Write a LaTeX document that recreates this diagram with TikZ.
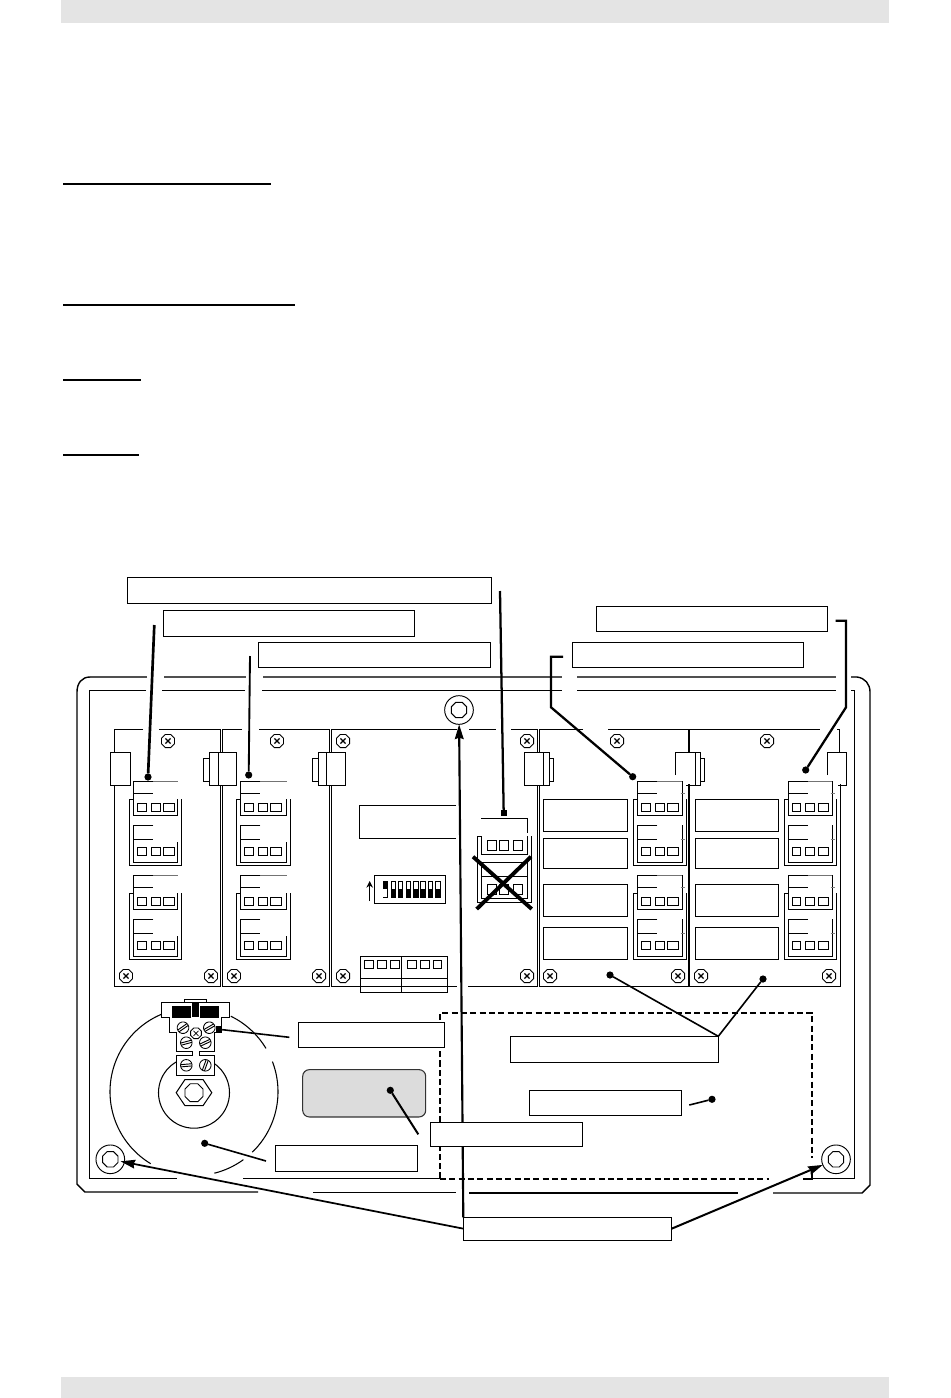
\documentclass[tikz,border=0pt]{standalone}
\usetikzlibrary{arrows.meta,shapes.geometric}
\definecolor{barg}{HTML}{E4E4E4}
\definecolor{panelg}{HTML}{DCDCDC}
\definecolor{edgeg}{HTML}{505050}
\tikzset{
  thinl/.style={line width=0.62pt,black},
  housing/.style={line width=1.3pt,edgeg},
  housingdark/.style={line width=1.05pt,black},
  lead/.style={line width=1.7pt,black},
  leadthin/.style={line width=1.2pt,black},
  rulel/.style={line width=1.5pt,black},
  lblbox/.style={draw=black,line width=0.75pt,fill=white,inner sep=0pt,outer sep=0pt},
  dotn/.style={circle,fill=black,inner sep=0pt,outer sep=0pt,minimum size=5.4pt},
  sqdot/.style={rectangle,fill=black,inner sep=0pt,outer sep=0pt,minimum size=4.8pt},
  fixn/.style={circle,draw=black,line width=0.7pt,fill=white,inner sep=0pt,outer sep=0pt,minimum size=21.5pt},
  hexn/.style={regular polygon,regular polygon sides=8,draw=black,line width=0.7pt,inner sep=0pt,outer sep=0pt,minimum size=12.5pt},
  screwn/.style={regular polygon,regular polygon sides=8,draw=black,line width=0.7pt,fill=white,inner sep=0pt,minimum size=10.6pt},
  tiparrow/.style={-{Stealth[length=11pt,width=6.5pt,inset=1pt]}},
}
\newcommand{\lblnode}[5]{%
  \pgfmathsetlengthmacro{\bw}{(#4-#2)*0.75pt}%
  \pgfmathsetlengthmacro{\bh}{(#5-#3)*0.75pt}%
  \node[lblbox,minimum width=\bw,minimum height=\bh] (#1) at ({(#2+#4)/2},{(#3+#5)/2}) {};}
\newcommand{\sqr}[4]{\draw[thinl] (#1,#2) rectangle (#3,#4);}
\newcommand{\xscrew}[2]{%
  \node[screwn] at (#1,#2) {};
  \draw[line width=1pt] ({#1-2.6},{#2-2.6}) -- ({#1+2.6},{#2+2.6}) ({#1-2.6},{#2+2.6}) -- ({#1+2.6},{#2-2.6});}
\newcommand{\slotscrew}[3]{%
  \begin{scope}[shift={(#1,#2)},rotate=#3]
    \draw[thinl,fill=white] (0,0) circle[radius=5.8];
    \draw[line width=0.7pt] (-5.6,-1.1) -- (5.6,-1.1) (-5.6,1.1) -- (5.6,1.1);
  \end{scope}}
\newcommand{\trio}[2]{% three little squares, tray left x, top y
  \sqr{#1+8}{#2}{#1+16.7}{#2+8}
  \sqr{#1+21.7}{#2}{#1+30.7}{#2+8}
  \sqr{#1+34}{#2}{#1+44.7}{#2+8}}
\newcommand{\connblock}[3]{%
  \draw[thinl] ({#1+4.4},{#2+18}) -- (#1,{#2+18}) -- (#1,{#2+84}) -- ({#1+#3},{#2+84}) -- ({#1+#3},{#2+18});
  \draw[line width=0.7pt,black!55] ({#1+24},#2) -- ({#1+#3-4},#2);
  \draw[thinl] ({#1+24},#2) -- ({#1+4.4},#2) -- ({#1+4.4},{#2+34}) -- ({#1+#3-4},{#2+34}) -- ({#1+#3-4},{#2+18});
  \draw[thinl] ({#1+4.4},{#2+12}) -- ({#1+24},{#2+12});
  \draw[thinl] ({#1+24},{#2+44}) -- ({#1+4.4},{#2+44}) -- ({#1+4.4},{#2+81}) -- ({#1+#3-4},{#2+81}) -- ({#1+#3-4},{#2+61});
  \draw[thinl] ({#1+4.4},{#2+58}) -- ({#1+24},{#2+58});
  \trio{#1}{#2+22}
  \trio{#1}{#2+66}}
\newcommand{\connextra}[3]{%
  \draw[thinl] ({#1+#3-4},#2) -- ({#1+#3-4},{#2+18});
  \draw[line width=0.6pt,black!50] ({#1+#3-6},{#2+12}) -- ({#1+#3-2},{#2+12});
  \draw[thinl] ({#1+#3-4},{#2+44}) -- ({#1+#3-4},{#2+61});
  \draw[line width=0.6pt,black!50] ({#1+#3-6},{#2+58}) -- ({#1+#3-2},{#2+58});}
\begin{document}
\begin{tikzpicture}[x=0.75pt,y=-0.75pt,line join=miter]
\useasboundingbox (0,0) rectangle (950,1398);
\fill[white] (0,0) rectangle (950,1398);
% page bars
\fill[barg] (61,0) rectangle (889,23);
\fill[barg] (61,1377) rectangle (889,1398);
% heading rules
\draw[rulel] (63,184) -- (271,184);
\draw[rulel] (63,305) -- (295,305);
\draw[rulel] (63,380) -- (141,380);
\draw[rulel] (63,455) -- (138.5,455);
% housing, outer
\draw[housing] (147,677) -- (90,677);
\draw[housingdark] (90,677) .. controls (82,677) and (77,683) .. (77,692) -- (77,1184) -- (85,1192) -- (258,1192);
\draw[housing] (164,677) -- (246,677);
\draw[housing] (263,677) -- (562,677);
\draw[housing] (577,677) -- (836,677);
\draw[housing] (851,677) -- (857,677);
\draw[housingdark] (857,677) .. controls (865,678) and (870,684) .. (870,692) -- (870,1185) -- (862,1193) -- (773,1193);
\draw[housingdark] (313,1192.5) -- (456,1192.5);
\draw[housingdark] (469,1193) -- (738,1193);
% housing, inner
\draw[line width=0.75pt] (146,690) -- (89.3,690) -- (89.3,1178) -- (177,1178);
\draw[line width=0.75pt] (243,1178) -- (440,1178);
\draw[line width=0.75pt] (162,690) -- (245,690);
\draw[line width=0.75pt] (262,690) -- (562,690);
\draw[line width=0.75pt] (577,690) -- (836,690);
\draw[line width=0.75pt] (851,690) -- (854,690) -- (854,1178) -- (812,1178);
% dashed zone
\draw[line width=1.35pt,dash pattern=on 4.6pt off 2.4pt] (440,1178.5) -- (440,1012.7) -- (812,1012.7) -- (812,1158);
\draw[line width=1.35pt,dash pattern=on 4.6pt off 2.4pt] (440,1179) -- (769,1179);
\draw[line width=1.35pt] (803,1179) -- (812,1179) -- (812,1173);
% modules
\draw[thinl] (143,729) -- (114,729) -- (114,986) -- (220,986) -- (220,729) -- (159,729);
\draw[thinl] (242,729) -- (222.4,729) -- (222.4,986) -- (329,986) -- (329,729) -- (259,729);
\draw[thinl] (457,729) -- (331.6,729) -- (331.6,986) -- (457,986);
\draw[thinl] (469,729) -- (496,729);
\draw[thinl] (511,729) -- (537,729) -- (537,986) -- (468,986);
\draw[thinl] (583,729) -- (539.4,729) -- (539.4,986) -- (689,986);
\draw[line width=1.3pt] (689,729) -- (689,986);
\draw[thinl] (608,729) -- (820,729);
\draw[thinl] (689,986) -- (840,986) -- (840,753);
\draw[thinl] (837,729) -- (839,729) -- (839,753);
% side clips
\draw[thinl,fill=white] (110,752) rectangle (130,785);
\draw[thinl,fill=white] (203,758) rectangle (209.5,781);
\draw[thinl,fill=white] (209.5,752) rectangle (218,785);
\draw[thinl,fill=white] (218,752) rectangle (236.5,785);
\draw[thinl,fill=white] (312,758) rectangle (318,781);
\draw[thinl,fill=white] (318,752) rectangle (326,785);
\draw[thinl,fill=white] (326,752) rectangle (345.7,785);
\draw[thinl,fill=white] (524,752) rectangle (543,785);
\draw[thinl,fill=white] (543,752) rectangle (549.5,785);
\draw[thinl,fill=white] (549.5,758) rectangle (553.5,781);
\fill[white] (676,753) rectangle (695,784);
\draw[thinl] (675,775) -- (675,752) -- (695.7,752);
\draw[thinl] (686,785) -- (695.7,785);
\draw[thinl,fill=white] (695.7,752) rectangle (700,785);
\draw[thinl,fill=white] (700,758) rectangle (704.7,781);
\fill[white] (828,753) rectangle (845,784);
\draw[thinl] (827,775) -- (827,752) -- (846,752) -- (846,785) -- (838,785);
% screws
\foreach \a/\b in {168/741,277/741,343/741,527/741,617/741,767/741,126/976,211/976,234/976,319/976,343/976,527/976,550/976,678/976,701/976,829/976}{\xscrew{\a}{\b}}
% connector blocks
\connblock{129.3}{781}{52.4}
\connblock{129.3}{875}{52.4}
\connblock{236.3}{781}{54.4}
\connblock{236.3}{875}{54.4}
\connblock{633.3}{781}{53.4}
\connblock{633.3}{875}{53.4}
\connblock{784}{781}{52.7}
\connblock{784}{875}{52.7}
\connextra{633.3}{781}{53.4}
\connextra{633.3}{875}{53.4}
\connextra{784}{781}{52.7}
\connextra{784}{875}{52.7}
% module 4 and 5 windows
\foreach \p/\q in {799.3/831.3,838.7/868.3,884.3/916.3,927.3/959.3}{
  \draw[line width=0.7pt] (543.3,\p) rectangle (627.7,\q);
  \draw[line width=0.7pt] (695.3,\p) rectangle (778.7,\q);
}
% module 3
\draw[line width=0.7pt] (456,805) -- (359,805) -- (359,838) -- (456,838);
\draw[thinl] (374.3,875) rectangle (445.7,903);
\foreach \c in {385.3,393.3,400.3,408.3,415.7,423,430.3,438}{
  \draw[line width=0.55pt] ({\c-2.4},881) rectangle ({\c+2.4},897);
  \fill[black] ({\c-2.4},889) rectangle ({\c+2.4},897);
}
\fill[white] (383.2,889.4) rectangle (387.4,896.6);
\fill[black] (382.9,881) rectangle (387.7,889);
\draw[line width=1pt,-{Stealth[length=5pt,width=5pt]}] (369.7,901) -- (369.7,881);
\draw[thinl] (360,956) rectangle (447.7,992);
\draw[thinl] (401,956) -- (401,992) (360,978) -- (447.7,978);
\sqr{364.7}{960}{373}{968}
\sqr{377.7}{960}{386.7}{968}
\sqr{390.7}{960}{399.7}{968}
\sqr{407}{960}{416}{968}
\sqr{420}{960}{429}{968}
\sqr{433}{960}{441.7}{968}
% crossed-out block
\draw[thinl] (481,818) -- (527.7,818) -- (527.7,833);
\draw[thinl] (481.7,836) -- (477.7,836) -- (477.7,902) -- (531.7,902) -- (531.7,836);
\draw[thinl] (481.7,836) -- (481.7,854.7) -- (527,854.7) -- (527,836);
\draw[thinl] (481.7,862) -- (527,862) (481.7,876) -- (527,876);
\draw[thinl] (481.7,862) -- (481.7,898) -- (527,898) -- (527,862);
\sqr{487}{840}{496}{850.7}
\sqr{499.6}{840}{508}{850.7}
\sqr{513}{840}{522}{850.7}
\sqr{487}{884}{496}{894}
\sqr{499.6}{884}{508}{894}
\sqr{513}{884}{522}{894}
\draw[line width=2.9pt] (473,856.7) -- (531.7,909);
\draw[line width=2.9pt] (476.7,909) -- (531,856.7);
% motor
\draw[line width=0.8pt] plot[domain=121:247,samples=60] ({194+84*cos(\x)},{1091.7+84*sin(\x)});
\draw[line width=0.8pt] plot[domain=54:76,samples=15] ({194+84*cos(\x)},{1091.7+84*sin(\x)});
\draw[line width=0.8pt] plot[domain=-21:46,samples=40] ({194+84*cos(\x)},{1091.7+84*sin(\x)});
\draw[line width=0.8pt] plot[domain=-64:-31,samples=20] ({194+84*cos(\x)},{1091.7+84*sin(\x)});
\draw[line width=0.8pt] (194,1092.7) circle[radius=35.5];
\draw[line width=0.75pt] (176.2,1092.7) -- (185,1079.5) -- (203,1079.5) -- (211.8,1092.7) -- (203,1105.7) -- (185,1105.7) -- cycle;
\node[regular polygon,regular polygon sides=8,draw=black,line width=0.7pt,inner sep=0pt,minimum size=14.6pt] at (194,1092.7) {};
% bracket
\draw[thinl,fill=white] (184,1002.3) -- (184,999.3) -- (206.7,999.3) -- (206.7,1002.3);
\draw[line width=0.7pt,fill=white] (161.3,1002.3) -- (229.7,1002.3) -- (229.7,1017.3) -- (221.3,1017.3) -- (221.3,1032.3) -- (214.7,1032.3) -- (214.7,1051.3) -- (199.3,1051.3) -- (199.3,1055.3) -- (214.7,1055.3) -- (214.7,1075.3) -- (176.3,1075.3) -- (176.3,1055.3) -- (192,1055.3) -- (192,1051.3) -- (176.3,1051.3) -- (176.3,1032.3) -- (169.3,1032.3) -- (169.3,1017.3) -- (161.3,1017.3) -- cycle;
\fill[black] (172,1006) rectangle (191,1017.7);
\fill[black] (192,1003.3) rectangle (198.7,1016.7);
\fill[black] (200,1006) rectangle (219,1017.7);
\slotscrew{183}{1027.7}{35}
\slotscrew{209.3}{1027.7}{30}
\slotscrew{186.3}{1042.7}{15}
\slotscrew{205.3}{1042.7}{25}
\slotscrew{186.3}{1065.3}{5}
\slotscrew{205.3}{1065.3}{70}
\node[regular polygon,regular polygon sides=8,draw=black,line width=0.7pt,fill=white,inner sep=0pt,minimum size=8.6pt] at (196,1033.3) {};
\draw[line width=0.5pt] (193.5,1030.8) -- (198.5,1035.8) (193.5,1035.8) -- (198.5,1030.8);
% grey panel
\node[draw=black!80,line width=0.8pt,fill=panelg,rounded corners=5pt,minimum width=92.25pt,minimum height=35.5pt,inner sep=0pt,outer sep=0pt] (panel) at (364.2,1093.3) {};
% fixings
\node[fixn] (fixT) at (459,710) {};
\node[hexn] at (459,710) {};
\node[fixn] (fixL) at (110.3,1159.3) {};
\node[hexn] at (110.3,1159.3) {};
\node[fixn] (fixR) at (836,1159.3) {};
\node[hexn] at (836,1159.3) {};
% dots and free ends
\node[dotn] (d1) at (148,777) {};
\node[dotn] (d2) at (248.7,775) {};
\node[sqdot] (d3) at (503.7,813) {};
\node[dotn] (d4) at (632.7,776.7) {};
\node[dotn] (d5) at (805.7,770) {};
\node[dotn] (d6) at (610,975) {};
\node[dotn] (d7) at (763,979) {};
\node[sqdot] (d8) at (219,1029.3) {};
\node[dotn] (d9) at (390.3,1090.3) {};
\node[dotn] (d10) at (204.7,1143.3) {};
\node[dotn] (d11) at (712,1099.3) {};
\coordinate (e1) at (154.3,625);
\coordinate (e2) at (250,656);
\coordinate (e3) at (500,591);
\coordinate (e4a) at (563,656.7);
\coordinate (e4b) at (551,656.7);
\coordinate (e4c) at (551,707.3);
\coordinate (e5a) at (835.7,620.7);
\coordinate (e5b) at (846,620.7);
\coordinate (e5c) at (846,707.3);
\coordinate (e8) at (289.3,1037.3);
\coordinate (e9) at (418.3,1134.3);
\coordinate (e10) at (266,1161);
\coordinate (e11) at (689.3,1105);
% leaders (under the label boxes)
\draw[lead,line width=2pt] (e1) -- (d1);
\draw[lead,line width=1.4pt] (e2) -- (d2);
\draw[lead] (e3) -- (d3);
\draw[lead,line join=miter] (e4a) -- (e4b) -- (e4c) -- (d4);
\draw[lead,line join=miter] (e5a) -- (e5b) -- (e5c) -- (d5);
\draw[leadthin] (e8) -- (d8);
\draw[lead,line width=1.5pt] (e9) -- (d9);
\draw[leadthin] (e10) -- (d10);
\draw[leadthin] (e11) -- (d11);
% label boxes
\lblnode{boxA}{127.3}{577}{491}{603.5}
\lblnode{boxB}{163}{610}{414}{636}
\lblnode{boxC}{258}{642}{490.5}{667}
\lblnode{boxD}{596}{606}{827}{631}
\lblnode{boxE}{572}{642}{803}{667}
\lblnode{boxF}{298.3}{1022.3}{444.7}{1047.3}
\lblnode{boxG}{275.3}{1145.3}{417.7}{1171.3}
% main arrow passes behind box H
\lblnode{boxK}{463.3}{1217.3}{671.7}{1240}
\draw[lead,line width=1.6pt,tiparrow] (boxK.north west) -- (fixT);
\lblnode{boxH}{430.3}{1122.3}{582.7}{1146.3}
\lblnode{boxI}{510.3}{1036.3}{718.3}{1062.3}
\lblnode{boxJ}{529.3}{1090.3}{681.7}{1115.3}
\draw[leadthin] (boxI.north east) -- (d6);
\draw[leadthin] (boxI.north east) -- (d7);
\draw[lead,line width=1.3pt,tiparrow,shorten >=-3pt] (boxK.west) -- (fixL);
\draw[lead,line width=1.5pt,tiparrow] (boxK.east) -- (fixR);
\end{tikzpicture}
\end{document}
